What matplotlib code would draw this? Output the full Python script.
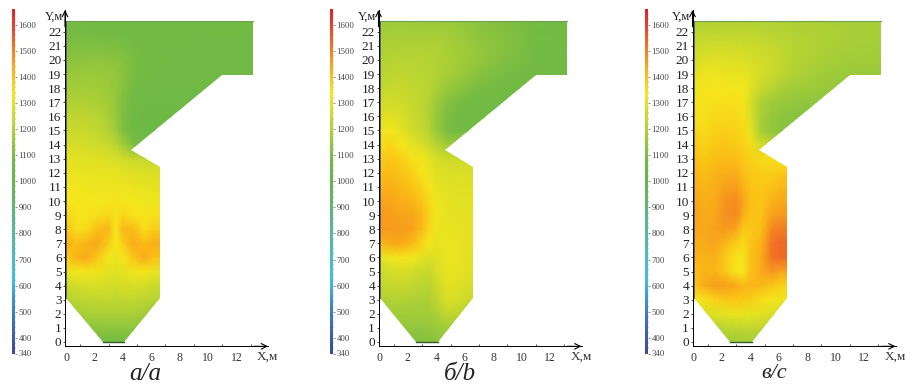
import matplotlib
matplotlib.use('Agg')
import matplotlib.pyplot as plt
import numpy as np
from matplotlib.colors import LinearSegmentedColormap, Normalize
from matplotlib.patches import Polygon

plt.rcParams['font.family'] = ['Liberation Serif', 'DejaVu Serif']

W, H = 921, 386

# grid of the temperature field, metres
grid_x = [0, 0.75, 1.5, 2.25, 3, 3.5, 4, 4.75, 5.5, 6.2, 7, 9, 11, 13.5]
grid_y = list(range(24))

# furnace outline, metres
outline_x = [0, 13.2, 13.2, 11, 4.6, 6.6, 6.6, 4.1, 2.6, 0]
outline_y = [22.8, 22.8, 18.95, 18.95, 13.6, 12.4, 3.1, 0, 0, 3.1]

# rows go from y=23 down to y=0
temps_a = [
    [1090, 1085, 1085, 1080, 1080, 1080, 1075, 1075, 1070, 1070, 1070, 1070, 1070, 1070],
    [1090, 1085, 1085, 1080, 1080, 1080, 1075, 1075, 1070, 1070, 1070, 1070, 1070, 1070],
    [1105, 1105, 1105, 1105, 1100, 1100, 1095, 1085, 1080, 1075, 1070, 1070, 1065, 1065],
    [1125, 1125, 1130, 1130, 1130, 1125, 1115, 1095, 1085, 1075, 1070, 1065, 1065, 1065],
    [1145, 1150, 1150, 1150, 1145, 1140, 1125, 1095, 1080, 1070, 1065, 1060, 1060, 1060],
    [1165, 1170, 1170, 1165, 1155, 1140, 1115, 1085, 1070, 1060, 1060, 1060, 1060, 1060],
    [1190, 1190, 1190, 1185, 1165, 1140, 1105, 1070, 1055, 1055, 1055, 1055, 1055, 1055],
    [1220, 1220, 1215, 1205, 1180, 1145, 1100, 1060, 1050, 1050, 1050, 1050, 1050, 1050],
    [1240, 1240, 1235, 1225, 1195, 1160, 1105, 1060, 1050, 1050, 1050, 1050, 1050, 1050],
    [1265, 1265, 1260, 1250, 1235, 1210, 1165, 1100, 1060, 1050, 1050, 1050, 1050, 1050],
    [1290, 1290, 1290, 1285, 1280, 1270, 1260, 1240, 1230, 1225, 1225, 1225, 1225, 1225],
    [1305, 1305, 1300, 1300, 1300, 1300, 1295, 1285, 1280, 1280, 1280, 1280, 1280, 1280],
    [1320, 1320, 1315, 1310, 1310, 1310, 1310, 1305, 1300, 1295, 1295, 1295, 1295, 1295],
    [1330, 1330, 1325, 1325, 1325, 1335, 1325, 1325, 1320, 1315, 1315, 1315, 1315, 1315],
    [1365, 1335, 1330, 1345, 1360, 1335, 1360, 1340, 1330, 1345, 1345, 1345, 1345, 1345],
    [1395, 1345, 1355, 1405, 1410, 1335, 1410, 1405, 1345, 1375, 1375, 1375, 1375, 1375],
    [1425, 1400, 1420, 1435, 1375, 1325, 1375, 1430, 1405, 1425, 1425, 1425, 1425, 1425],
    [1375, 1420, 1430, 1385, 1325, 1305, 1325, 1390, 1430, 1395, 1395, 1395, 1395, 1395],
    [1305, 1325, 1335, 1315, 1295, 1285, 1295, 1315, 1330, 1305, 1305, 1305, 1305, 1305],
    [1240, 1260, 1270, 1270, 1265, 1260, 1265, 1270, 1265, 1240, 1240, 1240, 1240, 1240],
    [1200, 1210, 1220, 1225, 1225, 1220, 1225, 1225, 1215, 1200, 1200, 1200, 1200, 1200],
    [1160, 1170, 1180, 1185, 1185, 1185, 1185, 1180, 1170, 1160, 1160, 1160, 1160, 1160],
    [1130, 1130, 1130, 1130, 1130, 1130, 1130, 1130, 1130, 1130, 1130, 1130, 1130, 1130],
    [1085, 1085, 1085, 1085, 1085, 1085, 1085, 1085, 1085, 1085, 1085, 1085, 1085, 1085],
]

temps_b = [
    [1150, 1150, 1150, 1150, 1150, 1150, 1150, 1145, 1140, 1130, 1120, 1100, 1085, 1080],
    [1170, 1170, 1170, 1170, 1170, 1170, 1170, 1165, 1155, 1145, 1130, 1110, 1085, 1080],
    [1185, 1190, 1190, 1190, 1190, 1190, 1190, 1180, 1165, 1155, 1140, 1115, 1085, 1080],
    [1195, 1200, 1205, 1205, 1205, 1200, 1195, 1185, 1170, 1155, 1140, 1105, 1080, 1080],
    [1205, 1215, 1220, 1215, 1210, 1205, 1195, 1175, 1160, 1140, 1120, 1090, 1075, 1075],
    [1225, 1235, 1235, 1225, 1215, 1205, 1180, 1150, 1130, 1110, 1095, 1080, 1075, 1075],
    [1250, 1260, 1255, 1235, 1215, 1195, 1160, 1120, 1095, 1085, 1075, 1070, 1070, 1070],
    [1280, 1290, 1275, 1245, 1220, 1190, 1145, 1100, 1080, 1075, 1070, 1070, 1070, 1070],
    [1310, 1320, 1295, 1260, 1230, 1200, 1150, 1100, 1080, 1070, 1070, 1070, 1070, 1070],
    [1345, 1360, 1330, 1300, 1270, 1245, 1205, 1165, 1150, 1150, 1150, 1150, 1150, 1150],
    [1375, 1390, 1370, 1345, 1320, 1295, 1265, 1255, 1250, 1250, 1250, 1250, 1250, 1250],
    [1395, 1405, 1390, 1370, 1340, 1310, 1285, 1280, 1275, 1275, 1275, 1275, 1275, 1275],
    [1420, 1425, 1410, 1395, 1365, 1335, 1300, 1290, 1285, 1285, 1285, 1285, 1285, 1285],
    [1440, 1440, 1425, 1420, 1390, 1355, 1310, 1295, 1290, 1290, 1290, 1290, 1290, 1290],
    [1455, 1450, 1440, 1440, 1410, 1365, 1320, 1300, 1295, 1295, 1295, 1295, 1295, 1295],
    [1455, 1455, 1450, 1445, 1405, 1355, 1310, 1305, 1300, 1295, 1295, 1295, 1295, 1295],
    [1410, 1430, 1435, 1410, 1360, 1320, 1300, 1305, 1305, 1295, 1295, 1295, 1295, 1295],
    [1295, 1315, 1335, 1325, 1295, 1275, 1285, 1305, 1305, 1290, 1290, 1290, 1290, 1290],
    [1250, 1260, 1265, 1260, 1240, 1235, 1275, 1300, 1300, 1285, 1285, 1285, 1285, 1285],
    [1225, 1230, 1235, 1230, 1210, 1210, 1240, 1290, 1285, 1270, 1270, 1270, 1270, 1270],
    [1190, 1195, 1195, 1190, 1185, 1190, 1215, 1275, 1265, 1240, 1240, 1240, 1240, 1240],
    [1160, 1165, 1165, 1165, 1165, 1170, 1185, 1225, 1215, 1195, 1195, 1195, 1195, 1195],
    [1135, 1135, 1135, 1135, 1135, 1140, 1150, 1170, 1170, 1160, 1160, 1160, 1160, 1160],
    [1110, 1110, 1110, 1110, 1110, 1115, 1125, 1135, 1135, 1130, 1130, 1130, 1130, 1130],
]

temps_c = [
    [1190, 1190, 1190, 1190, 1190, 1190, 1190, 1190, 1190, 1190, 1185, 1180, 1175, 1175],
    [1210, 1215, 1215, 1215, 1215, 1215, 1215, 1210, 1205, 1200, 1195, 1190, 1180, 1175],
    [1235, 1250, 1255, 1255, 1250, 1250, 1245, 1240, 1230, 1220, 1205, 1190, 1175, 1170],
    [1260, 1280, 1285, 1285, 1280, 1280, 1270, 1260, 1245, 1225, 1205, 1180, 1165, 1165],
    [1290, 1310, 1310, 1305, 1300, 1300, 1290, 1265, 1240, 1215, 1195, 1165, 1150, 1150],
    [1315, 1335, 1330, 1330, 1325, 1320, 1290, 1235, 1205, 1180, 1165, 1150, 1140, 1140],
    [1325, 1340, 1345, 1345, 1345, 1335, 1270, 1190, 1160, 1150, 1140, 1130, 1130, 1130],
    [1345, 1345, 1355, 1355, 1355, 1345, 1275, 1175, 1145, 1130, 1125, 1120, 1120, 1120],
    [1365, 1350, 1370, 1370, 1365, 1355, 1300, 1175, 1135, 1125, 1120, 1120, 1120, 1120],
    [1385, 1365, 1385, 1390, 1380, 1370, 1350, 1260, 1220, 1210, 1210, 1210, 1210, 1210],
    [1405, 1385, 1400, 1405, 1400, 1385, 1370, 1355, 1345, 1340, 1340, 1340, 1340, 1340],
    [1420, 1400, 1415, 1425, 1425, 1400, 1385, 1375, 1375, 1385, 1385, 1385, 1385, 1385],
    [1430, 1415, 1425, 1445, 1450, 1420, 1395, 1385, 1395, 1410, 1410, 1410, 1410, 1410],
    [1440, 1425, 1430, 1465, 1475, 1440, 1400, 1390, 1420, 1435, 1435, 1435, 1435, 1435],
    [1445, 1430, 1435, 1470, 1480, 1425, 1395, 1390, 1445, 1460, 1460, 1460, 1460, 1460],
    [1440, 1435, 1445, 1455, 1435, 1385, 1385, 1400, 1480, 1500, 1500, 1500, 1500, 1500],
    [1430, 1430, 1440, 1410, 1375, 1355, 1390, 1420, 1510, 1530, 1530, 1530, 1530, 1530],
    [1420, 1420, 1425, 1380, 1340, 1335, 1395, 1430, 1510, 1525, 1525, 1525, 1525, 1525],
    [1400, 1415, 1420, 1385, 1335, 1330, 1395, 1430, 1460, 1440, 1440, 1440, 1440, 1440],
    [1385, 1430, 1450, 1450, 1435, 1410, 1415, 1410, 1390, 1365, 1365, 1365, 1365, 1365],
    [1320, 1340, 1365, 1385, 1385, 1385, 1375, 1350, 1335, 1310, 1310, 1310, 1310, 1310],
    [1250, 1265, 1290, 1300, 1305, 1305, 1300, 1295, 1270, 1260, 1260, 1260, 1260, 1260],
    [1190, 1195, 1200, 1215, 1220, 1225, 1225, 1220, 1215, 1210, 1210, 1210, 1210, 1210],
    [1150, 1155, 1155, 1160, 1165, 1165, 1165, 1165, 1165, 1165, 1165, 1165, 1165, 1165],
]

# colour scale
scale_values = [340, 500, 620, 800, 1000, 1080, 1200, 1330, 1400, 1480, 1600, 1660]
scale_colors = ['#3a4a9c', '#3f7fc4', '#3fbfe0', '#55b8a0', '#68b648', '#72ba44', '#b5d334',
                '#f6e71c', '#fbc016', '#f58a20', '#e83a30', '#d8202a']
scale_ticks = [340, 400, 500, 600, 700, 800, 900, 1000, 1100, 1200, 1300, 1400, 1500, 1600]

x_ticks = [0, 2, 4, 6, 8, 10, 12]
y_ticks = list(range(23))
captions = ['а/а', 'б/b', 'в/с']
panels = [temps_a, temps_b, temps_c]

# pixel positions of x=0 and of the colour bar in each panel
origin_px = [66, 379.5, 693.5]
bar_px = [12, 330, 645]
caption_px = [145, 460, 774]
caption_size = [18, 18, 16]

sx, sy = 14.2, 14.1
y0_px = 342

bounds = np.array(scale_values, dtype=float)
norm = Normalize(340, 1660)
cmap = LinearSegmentedColormap.from_list(
    'furnace', [((v - 340) / 1320, c) for v, c in zip(bounds, scale_colors)], N=512)

fig = plt.figure(figsize=(W / 100, H / 100), dpi=100)


def px_axes(left, top, right, bottom):
    return fig.add_axes([left / W, 1 - bottom / H, (right - left) / W, (bottom - top) / H])


for i in range(3):
    x0 = origin_px[i]
    left, right = x0 - 1, x0 + 202
    top, bottom = 10, 346
    ax = px_axes(left, top, right, bottom)
    ax.set_xlim((left - x0) / sx, (right - x0) / sx)
    ax.set_ylim((y0_px - bottom) / sy, (y0_px - top) / sy)
    ax.patch.set_alpha(0)

    Z = np.array(panels[i], dtype=float)[::-1]
    mesh = ax.pcolormesh(grid_x, grid_y, Z, shading='gouraud', cmap=cmap, norm=norm)
    poly = Polygon(np.column_stack([outline_x, outline_y]), closed=True, transform=ax.transData,
                   fc='none', ec='none')
    ax.add_patch(poly)
    mesh.set_clip_path(poly)
    # thin green edge round the top and dark one on the hopper floor
    ax.plot(outline_x[:2], outline_y[:2], color='#6f9f55', lw=0.8)
    ax.plot(outline_x[7:9], outline_y[7:9], color='#3b5a30', lw=1)
    ax.plot([0, 0], [3.1, 22.8], color='#555555', lw=0.6)

    for s in ['top', 'right']:
        ax.spines[s].set_visible(False)
    for s in ['left', 'bottom']:
        ax.spines[s].set_linewidth(0.7)
    ax.set_xticks(x_ticks)
    ax.set_xticks(range(0, 14), minor=True)
    ax.set_yticks(y_ticks)
    ax.tick_params(axis='x', which='major', direction='out', length=0, pad=4, labelsize=8.5,
                   labelcolor='#333333')
    ax.tick_params(axis='x', which='minor', direction='in', length=1.5, width=0.5)
    ax.tick_params(axis='y', direction='out', length=1.5, width=0.5, pad=1, labelsize=9.5,
                   labelcolor='#222222')
    ax.annotate('', xy=(1.0, -0.001), xytext=(0.93, -0.001), xycoords='axes fraction',
                arrowprops=dict(arrowstyle='->', lw=0.8, color='black', shrinkA=0, shrinkB=0))
    ax.annotate('', xy=(0, 1.0), xytext=(0, 0.95), xycoords='axes fraction',
                arrowprops=dict(arrowstyle='->', lw=0.8, color='black', shrinkA=0, shrinkB=0))
    fig.text((x0 + 191) / W, 1 - 356.5 / H, 'X,м', fontsize=9.5, va='center', ha='left', color='#333333')
    fig.text((x0 - 3) / W, 1 - 17 / H, 'Y,м', fontsize=9, va='center', ha='right', color='#222222')
    fig.text(caption_px[i] / W, 1 - 374 / H, captions[i], fontsize=caption_size[i], style='italic',
             ha='center', va='center', color='#222222')

    # colour bar
    b0 = bar_px[i]
    cax = px_axes(b0, 9, b0 + 3, 353.5)
    levels = np.arange(340, 1661, 10)
    cax.pcolormesh([0, 1], levels, np.column_stack([levels[:-1]]), cmap=cmap, norm=norm)
    cax.set_xticks([])
    cax.set_ylim(340, 1660)
    cax.yaxis.tick_right()
    cax.set_yticks(scale_ticks)
    cax.set_yticks(range(340, 1660, 20), minor=True)
    cax.tick_params(axis='y', which='major', length=1.5, width=0.4, pad=1, labelsize=6.3,
                    labelcolor='#444444', color='#333333')
    cax.tick_params(axis='y', which='minor', length=0.8, width=0.3, color='#555555')
    for s in cax.spines.values():
        s.set_visible(False)

fig.savefig('out.png', dpi=100)
